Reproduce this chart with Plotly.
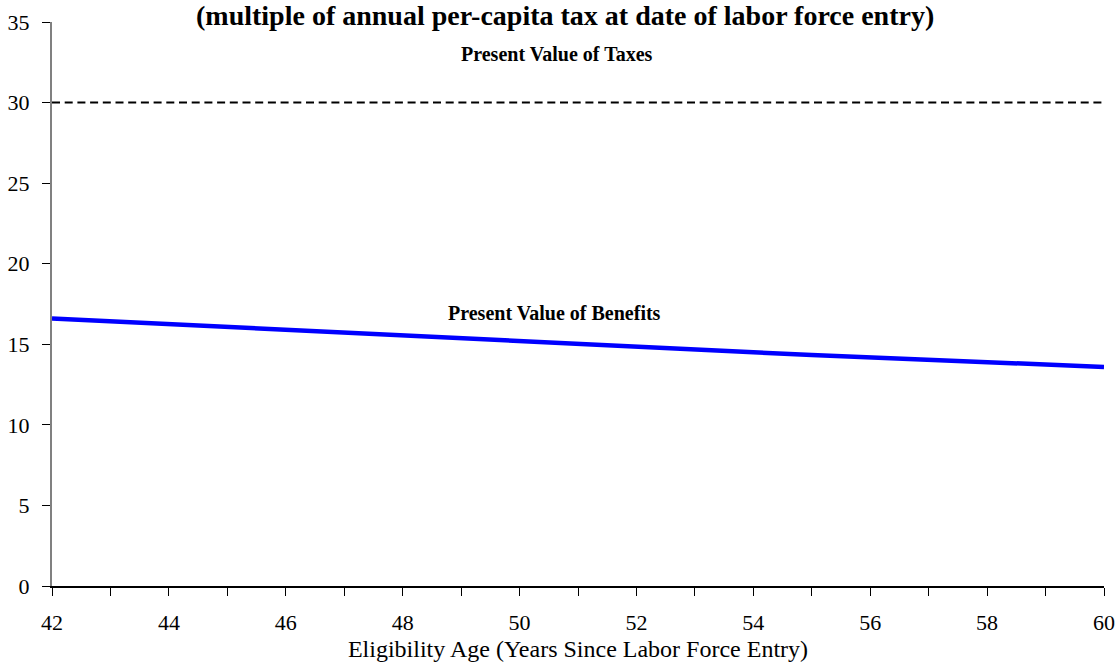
import plotly.graph_objects as go

ages = [42, 43, 44, 45, 46, 47, 48, 49, 50, 51, 52, 53, 54, 55, 56, 57, 58, 59, 60]
pv_benefits = [16.60, 16.42, 16.24, 16.06, 15.88, 15.70, 15.52, 15.34, 15.17, 15.00,
               14.83, 14.66, 14.50, 14.34, 14.18, 14.03, 13.88, 13.73, 13.59]
pv_taxes = [30.0] * len(ages)
x_tick_text = [str(a) if a % 2 == 0 else "" for a in ages]
y_ticks = [0, 5, 10, 15, 20, 25, 30, 35]

title_text = "(multiple of annual per-capita tax at date of labor force entry)"
x_title = "Eligibility Age (Years Since Labor Force Entry)"
taxes_label = "Present Value of Taxes"
benefits_label = "Present Value of Benefits"

FONT = "Liberation Serif, Times New Roman, serif"

W, H = 1120, 662
ML, MR, MT, MB = 52, 16, 22, 76
plot_w = W - ML - MR
plot_h = H - MT - MB

fig = go.Figure()
fig.add_trace(go.Scatter(x=ages, y=pv_taxes, mode="lines",
                         line=dict(color="black", width=2, dash="8px,4.7px"),
                         showlegend=False, hoverinfo="skip"))
fig.add_trace(go.Scatter(x=ages, y=pv_benefits, mode="lines",
                         line=dict(color="#0000FF", width=4.5),
                         showlegend=False))

fig.add_annotation(x=50.64, y=33.0, xref="x", yref="y", text="<b>" + taxes_label + "</b>",
                   showarrow=False, font=dict(family=FONT, size=20, color="black"))
fig.add_annotation(x=50.6, y=16.95, xref="x", yref="y", text="<b>" + benefits_label + "</b>",
                   showarrow=False, font=dict(family=FONT, size=20, color="black"))
fig.add_annotation(x=(565 - ML) / plot_w, y=1 + (MT - 16) / plot_h, xref="paper", yref="paper",
                   xanchor="center", yanchor="middle",
                   text="<b>" + title_text + "</b>",
                   showarrow=False, font=dict(family=FONT, size=28, color="black"))

fig.update_layout(
    width=W, height=H,
    margin=dict(l=ML, r=MR, t=MT, b=MB, autoexpand=False),
    paper_bgcolor="white", plot_bgcolor="white",
    font=dict(family=FONT, color="black"),
    xaxis=dict(range=[42, 60], tickmode="array", tickvals=ages, ticktext=x_tick_text,
               ticks="outside", ticklen=8, tickcolor="black", tickwidth=1,
               showline=True, linecolor="black", linewidth=1.5,
               showgrid=False, zeroline=False, ticklabelstandoff=8, automargin=False,
               tickfont=dict(family=FONT, size=22, color="black"),
               title=dict(text=x_title, font=dict(family=FONT, size=24, color="black"), standoff=11)),
    yaxis=dict(range=[0, 35], tickmode="array", tickvals=y_ticks,
               ticks="outside", ticklen=8, tickcolor="black", tickwidth=1,
               showline=True, linecolor="#808080", linewidth=2,
               showgrid=False, zeroline=False, ticklabelstandoff=8, automargin=False,
               tickfont=dict(family=FONT, size=22, color="black")),
)

# remove the browser's default 8px body margin so the figure fills the window exactly
fig.write_html("out.html", config={"displayModeBar": False},
               post_script="document.body.style.margin='0';document.body.style.overflow='hidden';")
